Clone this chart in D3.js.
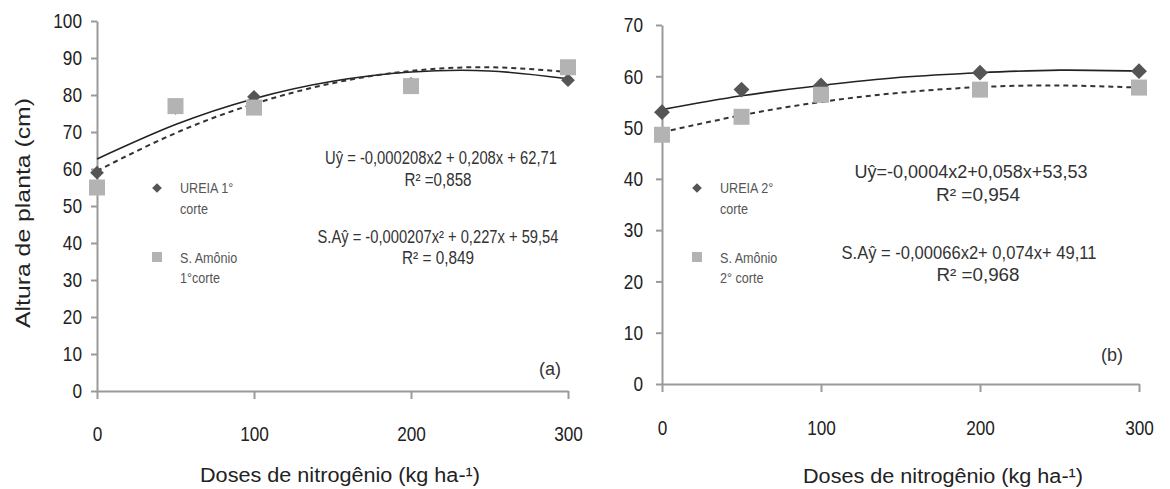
<!DOCTYPE html>
<html>
<head>
<meta charset="utf-8">
<script src="https://cdn.jsdelivr.net/npm/d3@7"></script>
<style>
  body { margin: 0; background: #fff; }
  svg { display: block; }
  .axis path, .axis line { stroke: #9a9a9a; stroke-width: 2; }
  .axis text { font-family: "Liberation Sans", Arial, sans-serif; font-size: 21px; fill: #222; }
  .title { font-family: "Liberation Sans", Arial, sans-serif; fill: #222; }
  .eq { font-family: "Liberation Sans", Arial, sans-serif; font-size: 18px; fill: #333; }
  .legend { font-family: "Liberation Sans", Arial, sans-serif; font-size: 14px; fill: #555; }
</style>
</head>
<body>
<svg id="chart" width="1170" height="489"></svg>
<script>
// measured doses
const doses = [0, 50, 100, 200, 300];

// panel (a), 1st cut
const ureia1 = [59, 76.5, 79.5, 83, 84];
const amonio1 = [55, 77, 76.6, 82.4, 87.5];
// panel (b), 2nd cut
const ureia2 = [53, 57.4, 58.2, 60.7, 61];
const amonio2 = [48.6, 52.1, 56.4, 57.4, 57.8];

// fitted trend lines
const fitX = [0, 50, 100, 150, 200, 250, 300];
const fitUreia1 = [62.7, 72.0, 79.0, 83.7, 86.2, 86.5, 84.4];
const fitAmonio1 = [59.5, 69.7, 77.6, 83.2, 86.5, 87.5, 86.2];
const fitUreia2 = [53.5, 56.2, 58.2, 59.8, 60.7, 61.2, 61.0];
const fitAmonio2 = [49.1, 52.4, 55.0, 56.8, 57.9, 58.2, 57.8];

const xTicks = [0, 100, 200, 300];
const xTitle = "Doses de nitrogênio (kg ha-¹)";
const yTitle = "Altura de planta (cm)";

const NARROW = 0.82; // the source uses a condensed face
const svg = d3.select("#chart");

/**
 * Draws one panel: axes, trend lines, markers, legend and equations.
 */
function drawPanel(p) {
    const x = d3.scaleLinear().domain([0, 300]).range(p.xRange);
    const y = d3.scaleLinear().domain([0, p.yMax]).range(p.yRange);
    const g = svg.append("g");

    const yAxis = g.append("g")
        .attr("class", "axis")
        .attr("transform", `translate(${p.xRange[0]},0)`)
        .call(d3.axisLeft(y).tickValues(d3.range(0, p.yMax + 1, 10)).tickSize(6).tickSizeOuter(0).tickPadding(p.yPad));
    yAxis.selectAll("text").each(function() {
        const t = d3.select(this);
        t.attr("transform", `translate(${t.attr("x")},0) scale(${NARROW},1)`).attr("x", 0);
    });

    const xAxis = g.append("g")
        .attr("class", "axis")
        .attr("transform", `translate(0,${p.yRange[0]})`)
        .call(d3.axisBottom(x).tickValues(xTicks).tickSize(8).tickSizeOuter(0).tickPadding(p.xPad));
    xAxis.selectAll("text").attr("transform", `scale(${NARROW},1)`);

    const line = (vals) => d3.line()
        .x((d, i) => x(fitX[i]))
        .y(d => y(d))
        .curve(d3.curveNatural)(vals);

    g.append("path")
        .attr("d", line(p.fitA))
        .attr("fill", "none")
        .attr("stroke", "#222")
        .attr("stroke-width", 1.6);
    g.append("path")
        .attr("d", line(p.fitB))
        .attr("fill", "none")
        .attr("stroke", "#333")
        .attr("stroke-width", 2)
        .attr("stroke-dasharray", "5,4");

    // diamonds sit under the squares
    g.selectAll(".dia")
        .data(p.ureia)
        .enter().append("path")
        .attr("class", "dia")
        .attr("d", d3.symbol(d3.symbolDiamond2, p.diaSize))
        .attr("transform", (d, i) => `translate(${x(doses[i])},${y(d)})`)
        .attr("fill", "#555");

    g.selectAll(".sq")
        .data(p.amonio)
        .enter().append("rect")
        .attr("class", "sq")
        .attr("x", (d, i) => x(doses[i]) - 8)
        .attr("y", d => y(d) - 8)
        .attr("width", 16)
        .attr("height", 16)
        .attr("fill", "#b3b3b3");

    // legend
    const lx = p.legendX;
    g.append("path")
        .attr("d", d3.symbol(d3.symbolDiamond2, 60))
        .attr("transform", `translate(${lx},188)`)
        .attr("fill", "#555");
    g.append("rect")
        .attr("x", lx - 5).attr("y", 252).attr("width", 10).attr("height", 10)
        .attr("fill", "#b3b3b3");
    const legendText = [
        [p.legendA[0], 193], [p.legendA[1], 214],
        [p.legendB[0], 263], [p.legendB[1], 283]
    ];
    g.selectAll(".legend")
        .data(legendText)
        .enter().append("text")
        .attr("class", "legend")
        .attr("x", lx + 23)
        .attr("y", d => d[1])
        .attr("transform", d => `translate(${(lx + 23) * (1 - 0.9)},0) scale(0.9,1)`)
        .text(d => d[0]);

    // equations, squeezed to the source widths
    g.selectAll(".eq")
        .data(p.eqs)
        .enter().append("text")
        .attr("class", "eq")
        .attr("x", d => d[1])
        .attr("y", d => d[2])
        .attr("text-anchor", "middle")
        .attr("textLength", d => d[3])
        .attr("lengthAdjust", "spacingAndGlyphs")
        .text(d => d[0]);

    g.append("text")
        .attr("class", "eq")
        .attr("x", p.tag[0]).attr("y", p.tag[1])
        .attr("text-anchor", "middle")
        .text(p.tag[2]);

    g.append("text")
        .attr("class", "title")
        .attr("x", p.xTitle[0]).attr("y", p.xTitle[1])
        .attr("text-anchor", "middle")
        .attr("textLength", 280)
        .attr("lengthAdjust", "spacingAndGlyphs")
        .style("font-size", "20px")
        .text(xTitle);
}

drawPanel({
    xRange: [97, 568], yRange: [391, 21], yMax: 100, yPad: 9, xPad: 27,
    ureia: ureia1, amonio: amonio1, fitA: fitUreia1, fitB: fitAmonio1,
    diaSize: 120, legendX: 157,
    legendA: ["UREIA 1°", "corte"], legendB: ["S. Amônio", "1°corte"],
    eqs: [
        ["Uŷ = -0,000208x2 + 0,208x + 62,71", 441, 164, 232],
        ["R² =0,858", 438, 186, 67],
        ["S.Aŷ = -0,000207x² + 0,227x + 59,54", 438, 243, 241],
        ["R² = 0,849", 438, 264, 72]
    ],
    tag: [550, 375, "(a)"],
    xTitle: [340, 482]
});

drawPanel({
    xRange: [662, 1139], yRange: [384, 25], yMax: 70, yPad: 13, xPad: 28,
    ureia: ureia2, amonio: amonio2, fitA: fitUreia2, fitB: fitAmonio2,
    diaSize: 160, legendX: 697,
    legendA: ["UREIA 2°", "corte"], legendB: ["S. Amônio", "2° corte"],
    eqs: [
        ["Uŷ=-0,0004x2+0,058x+53,53", 971, 178, 233],
        ["R² =0,954", 978, 201, 84],
        ["S.Aŷ = -0,00066x2+ 0,074x+ 49,11", 969, 259, 255],
        ["R² =0,968", 978, 281, 83]
    ],
    tag: [1112, 361, "(b)"],
    xTitle: [943, 483]
});

svg.append("text")
    .attr("class", "title")
    .attr("transform", "translate(30,213) rotate(-90)")
    .attr("text-anchor", "middle")
    .attr("textLength", 230)
    .attr("lengthAdjust", "spacingAndGlyphs")
    .style("font-size", "20px")
    .text(yTitle);
</script>
</body>
</html>
